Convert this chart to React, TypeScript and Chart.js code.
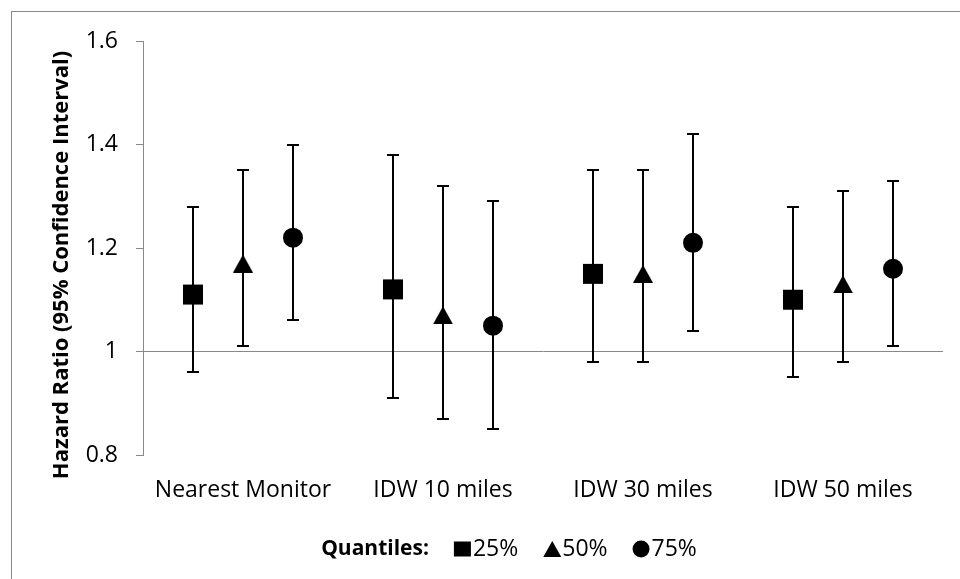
import { useEffect, useRef } from 'react';
import { Chart, registerables } from 'chart.js';

Chart.register(...registerables);

const categories = ['Nearest Monitor', 'IDW 10 miles', 'IDW 30 miles', 'IDW 50 miles'];
const quantileLabels = ['25%', '50%', '75%'];

const hr25 = [1.11, 1.12, 1.15, 1.10];
const lo25 = [0.96, 0.91, 0.98, 0.95];
const hi25 = [1.28, 1.38, 1.35, 1.28];

const hr50 = [1.17, 1.07, 1.15, 1.13];
const lo50 = [1.01, 0.87, 0.98, 0.98];
const hi50 = [1.35, 1.32, 1.35, 1.31];

const hr75 = [1.22, 1.05, 1.21, 1.16];
const lo75 = [1.06, 0.85, 1.04, 1.01];
const hi75 = [1.40, 1.29, 1.42, 1.33];

const yTicks = [0.8, 1, 1.2, 1.4, 1.6];

const yTitle = 'Hazard Ratio (95% Confidence Interval)';
const legendTitle = 'Quantiles:';

const FONT = '"Open Sans"';
const SIZE = 23;
const GRAY = '#898989';

function makeTriangle(w: number, h: number) {
  const c = document.createElement('canvas');
  c.width = w;
  c.height = h;
  const g = c.getContext('2d')!;
  g.fillStyle = '#000';
  g.beginPath();
  g.moveTo(w / 2, 0);
  g.lineTo(w, h);
  g.lineTo(0, h);
  g.closePath();
  g.fill();
  return c;
}

const framePlugin = {
  id: 'frame',
  beforeDraw(chart: any) {
    const { ctx } = chart;
    ctx.save();
    ctx.fillStyle = '#fff';
    ctx.fillRect(0, 0, chart.width, chart.height);
    ctx.strokeStyle = GRAY;
    ctx.lineWidth = 1;
    ctx.strokeRect(11.5, 11.5, 3000, 3000);
    ctx.restore();
  },
};

const errorBarPlugin = {
  id: 'errorBars',
  beforeDatasetsDraw(chart: any) {
    const { ctx } = chart;
    const x = chart.scales.x;
    const y = chart.scales.y;
    ctx.save();
    ctx.strokeStyle = '#000';
    ctx.lineWidth = 2;
    chart.data.datasets.forEach((ds: any) => {
      ds.data.forEach((p: any) => {
        const px = Math.round(x.getPixelForValue(p.x));
        const yl = Math.round(y.getPixelForValue(p.lo));
        const yh = Math.round(y.getPixelForValue(p.hi));
        ctx.beginPath();
        ctx.moveTo(px, yl);
        ctx.lineTo(px, yh);
        ctx.moveTo(px - 6, yl);
        ctx.lineTo(px + 6, yl);
        ctx.moveTo(px - 6, yh);
        ctx.lineTo(px + 6, yh);
        ctx.stroke();
      });
    });
    ctx.restore();
  },
};

const textPlugin = {
  id: 'extraText',
  afterDraw(chart: any) {
    const { ctx } = chart;
    ctx.save();
    // y-axis title
    ctx.translate(62, 265);
    ctx.rotate(-Math.PI / 2);
    ctx.fillStyle = '#000';
    ctx.font = `bold 22px ${FONT}`;
    ctx.textAlign = 'center';
    ctx.textBaseline = 'middle';
    ctx.fillText(yTitle, 0, 0);
    ctx.restore();

    // legend
    ctx.save();
    ctx.fillStyle = '#000';
    ctx.textBaseline = 'middle';
    ctx.textAlign = 'left';
    const cy = 549;
    const gap = 25;
    const mGap = 2;
    const mW = 17;
    const boldFont = `bold 21px ${FONT}`;
    ctx.font = boldFont;
    const tW = ctx.measureText(legendTitle).width;
    ctx.font = `${SIZE}px ${FONT}`;
    const itemW = quantileLabels.map((l) => mW + mGap + ctx.measureText(l).width);
    const total = tW + itemW.reduce((a, b) => a + b + gap, 0);
    let cx = 509 - total / 2;
    ctx.font = boldFont;
    ctx.fillText(legendTitle, cx, cy);
    cx += tW + gap;
    ctx.font = `${SIZE}px ${FONT}`;
    quantileLabels.forEach((l, k) => {
      ctx.beginPath();
      if (k === 0) {
        ctx.rect(cx, cy - 7.5, 17, 15);
      } else if (k === 1) {
        ctx.moveTo(cx + 9, cy - 8);
        ctx.lineTo(cx + 18, cy + 8);
        ctx.lineTo(cx, cy + 8);
        ctx.closePath();
      } else {
        ctx.arc(cx + 8.5, cy, 8.5, 0, Math.PI * 2);
      }
      ctx.fill();
      ctx.fillText(l, cx + mW + mGap, cy);
      cx += itemW[k] + gap;
    });
    ctx.restore();
  },
};

export default function App() {
  const ref = useRef<HTMLCanvasElement>(null);

  useEffect(() => {
    const canvas = ref.current!;
    const offsets = [-0.25, 0, 0.25];
    const hrs = [hr25, hr50, hr75];
    const los = [lo25, lo50, lo75];
    const his = [hi25, hi50, hi75];
    const styles: any[] = ['rect', makeTriangle(20, 18), 'circle'];
    const radii = [14.14, 10, 10];

    const datasets = quantileLabels.map((q, k) => ({
      label: q,
      data: categories.map((_, i) => ({
        x: i + 0.5 + offsets[k],
        y: hrs[k][i],
        lo: los[k][i],
        hi: his[k][i],
      })),
      showLine: false,
      pointStyle: styles[k],
      pointRadius: radii[k],
      pointBackgroundColor: '#000',
      pointBorderColor: '#000',
      pointBorderWidth: 0,
    }));

    const chart = new Chart(canvas, {
      type: 'scatter',
      data: { datasets },
      options: {
        responsive: false,
        animation: false,
        events: [],
        layout: { padding: { top: 41, right: 17, left: 0, bottom: 0 } },
        plugins: {
          legend: { display: false },
          tooltip: { enabled: false },
        },
        scales: {
          x: {
            type: 'linear',
            position: 'bottom',
            min: 0,
            max: 4,
            afterBuildTicks: (scale: any) => {
              scale.ticks = categories.map((_, i) => ({ value: i + 0.5 }));
            },
            afterFit: (scale: any) => {
              scale.height = 124;
            },
            grid: { display: false, drawTicks: false },
            border: { display: false },
            ticks: {
              autoSkip: false,
              maxRotation: 0,
              padding: 22,
              color: '#000',
              font: { family: FONT, size: SIZE },
              callback: (v: any) => categories[Math.floor(Number(v))],
            },
          },
          y: {
            type: 'linear',
            min: 0.8,
            max: 1.6,
            afterBuildTicks: (scale: any) => {
              scale.ticks = yTicks.map((v) => ({ value: v }));
            },
            afterFit: (scale: any) => {
              scale.width = 143;
            },
            grid: {
              drawOnChartArea: true,
              drawTicks: true,
              tickLength: 7,
              tickColor: GRAY,
              lineWidth: 1,
              color: (c: any) =>
                c.tick && Math.abs(c.tick.value - 1) < 1e-9 ? GRAY : 'rgba(0,0,0,0)',
            },
            border: { display: true, color: GRAY, width: 1 },
            ticks: {
              padding: 18,
              color: '#000',
              font: { family: FONT, size: SIZE },
              callback: (v: any) => String(Number(Number(v).toFixed(1))),
            },
          },
        },
      },
      plugins: [framePlugin, errorBarPlugin, textPlugin],
    });
    return () => chart.destroy();
  }, []);

  return (
    <div style={{ position: 'fixed', left: 0, top: 0, width: 960, height: 579, background: '#fff' }}>
      <canvas ref={ref} width={960} height={579} style={{ width: 960, height: 579 }} />
    </div>
  );
}
